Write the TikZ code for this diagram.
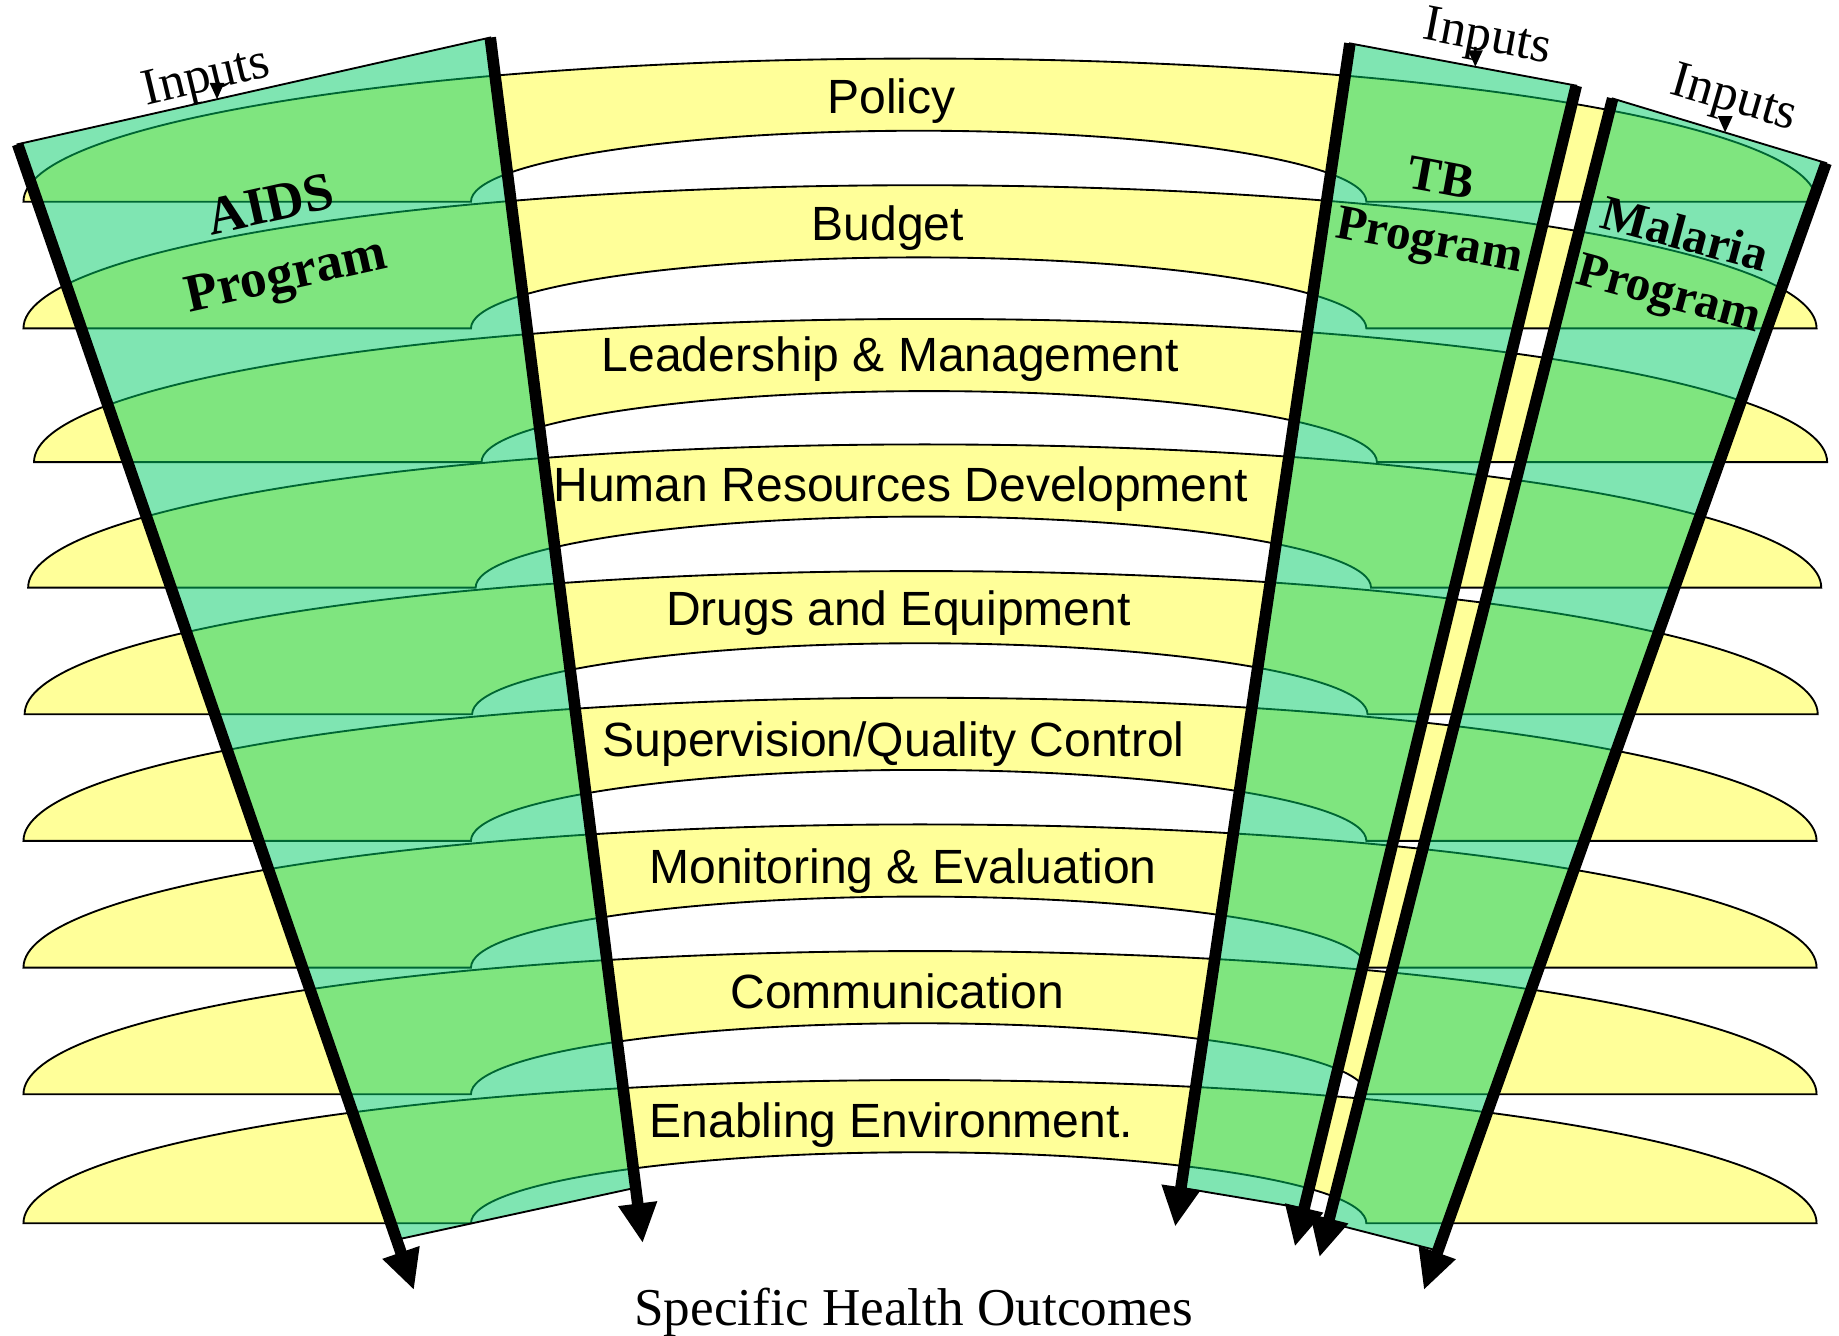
\documentclass[tikz,border=0pt]{standalone}
\usepackage{fontspec}
\setmainfont{Liberation Serif}
\setsansfont{Liberation Sans}
\usetikzlibrary{arrows.meta,calc}
\definecolor{bandyellow}{RGB}{255,255,153}
\definecolor{progreen}{RGB}{0,204,102}

\begin{document}
\begin{tikzpicture}[x=0.01cm, y=-0.01cm]
\tikzstyle{band}=[draw=black, line width=0.45pt, fill=bandyellow]
\tikzstyle{prog}=[draw=black, line width=0.45pt, fill=progreen, fill opacity=0.5]
\tikzstyle{edgearrow}=[line width=2.8pt, -{Triangle[length=3.4mm, width=3.1mm]}]
\tikzstyle{inarrow}=[line width=0.6pt, -{Triangle[length=1.4mm, width=1.2mm]}]
\tikzstyle{bandlabel}=[font=\sffamily\fontsize{11.65}{13}\selectfont, anchor=base, inner sep=0pt]
\tikzstyle{proglabel}=[align=center, inner sep=0pt]
\tikzstyle{inlabel}=[font=\fontsize{12.5}{14}\selectfont, inner sep=0pt]

\useasboundingbox (0,0) rectangle (1568,1139);

\draw[band] (20,172) arc[start angle=180, end angle=0, x radius=7.64cm, y radius=1.22cm] -- (1165,172) arc[start angle=0, end angle=180, x radius=3.815cm, y radius=0.605cm] -- cycle;
\draw[band] (20,280) arc[start angle=180, end angle=0, x radius=7.64cm, y radius=1.22cm] -- (1165,280) arc[start angle=0, end angle=180, x radius=3.815cm, y radius=0.605cm] -- cycle;
\draw[band] (29,394) arc[start angle=180, end angle=0, x radius=7.64cm, y radius=1.22cm] -- (1174,394) arc[start angle=0, end angle=180, x radius=3.815cm, y radius=0.605cm] -- cycle;
\draw[band] (24,501) arc[start angle=180, end angle=0, x radius=7.64cm, y radius=1.22cm] -- (1169,501) arc[start angle=0, end angle=180, x radius=3.815cm, y radius=0.605cm] -- cycle;
\draw[band] (21,609) arc[start angle=180, end angle=0, x radius=7.64cm, y radius=1.22cm] -- (1166,609) arc[start angle=0, end angle=180, x radius=3.815cm, y radius=0.605cm] -- cycle;
\draw[band] (20,717) arc[start angle=180, end angle=0, x radius=7.64cm, y radius=1.22cm] -- (1165,717) arc[start angle=0, end angle=180, x radius=3.815cm, y radius=0.605cm] -- cycle;
\draw[band] (20,825) arc[start angle=180, end angle=0, x radius=7.64cm, y radius=1.22cm] -- (1165,825) arc[start angle=0, end angle=180, x radius=3.815cm, y radius=0.605cm] -- cycle;
\draw[band] (20,933) arc[start angle=180, end angle=0, x radius=7.64cm, y radius=1.22cm] -- (1165,933) arc[start angle=0, end angle=180, x radius=3.815cm, y radius=0.605cm] -- cycle;
\draw[band] (20,1043) arc[start angle=180, end angle=0, x radius=7.64cm, y radius=1.22cm] -- (1165,1043) arc[start angle=0, end angle=180, x radius=3.815cm, y radius=0.605cm] -- cycle;

\node[bandlabel] (B0) at (760,97) {Policy};
\node[bandlabel] (B1) at (757,205) {Budget};
\node[bandlabel] (B2) at (759,317) {Leadership \& Management};
\node[bandlabel] (B3) at (768,428) {Human Resources Development};
\node[bandlabel] (B4) at (766,533) {Drugs and Equipment};
\node[bandlabel] (B5) at (762,645) {Supervision/Quality Control};
\node[bandlabel] (B6) at (770,753) {Monitoring \& Evaluation};
\node[bandlabel] (B7) at (765,860) {Communication};
\node[bandlabel] (B8) at (760,970) {Enabling Environment.};

\coordinate (A0) at (15,123);
\coordinate (A1) at (353,1100);
\coordinate (A2) at (418,32);
\coordinate (A3) at (548,1060);
\draw[prog] (A0) -- (A2) -- ($(A2)!0.954!(A3)$) -- ($(A0)!0.956!(A1)$) -- cycle;
\draw[edgearrow] (A0) -- (A1);
\draw[edgearrow] (A2) -- (A3);

\coordinate (T0) at (1151,37);
\coordinate (T1) at (1002,1046);
\coordinate (T2) at (1344,73);
\coordinate (T3) at (1104,1063);
\draw[prog] (T0) -- (T2) -- ($(T2)!0.967!(T3)$) -- ($(T0)!0.967!(T1)$) -- cycle;
\draw[edgearrow] (T0) -- (T1);
\draw[edgearrow] (T2) -- (T3);

\coordinate (M0) at (1375,84);
\coordinate (M1) at (1125,1072);
\coordinate (M2) at (1557,139);
\coordinate (M3) at (1214,1100);
\draw[prog] (M0) -- (M2) -- ($(M2)!0.965!(M3)$) -- ($(M0)!0.970!(M1)$) -- cycle;
\draw[edgearrow] (M0) -- (M1);
\draw[edgearrow] (M2) -- (M3);

\node[inlabel, rotate=13.5] (A4) at (176,68) {Inputs};
\coordinate (A5) at (185,72);
\draw[inarrow] (A5) -- ($(A0)!0.422!(A2)$);
\node[inlabel, rotate=-10.8] (T4) at (1268,34) {Inputs};
\coordinate (T5) at (1258,40);
\draw[inarrow] (T5) -- ($(T0)!0.554!(T2)$);
\node[inlabel, rotate=-16.2] (M4) at (1478,86) {Inputs};
\coordinate (M5) at (1471,99);
\draw[inarrow] (M5) -- ($(M0)!0.527!(M2)$);

\node[proglabel, rotate=12.6, font=\bfseries\fontsize{13}{17}\selectfont] (A6) at (238,208) {AIDS\\Program};
\node[proglabel, rotate=-10.4, font=\bfseries\fontsize{12}{15}\selectfont] (T6) at (1223,182) {TB\\Program};
\node[proglabel, rotate=-15, font=\bfseries\fontsize{12}{14.5}\selectfont] (M6) at (1429,228) {Malaria\\Program};

\node[font=\fontsize{12.9}{15}\selectfont, inner sep=0pt] (S0) at (779,1119) {Specific Health Outcomes};
\end{tikzpicture}
\end{document}
